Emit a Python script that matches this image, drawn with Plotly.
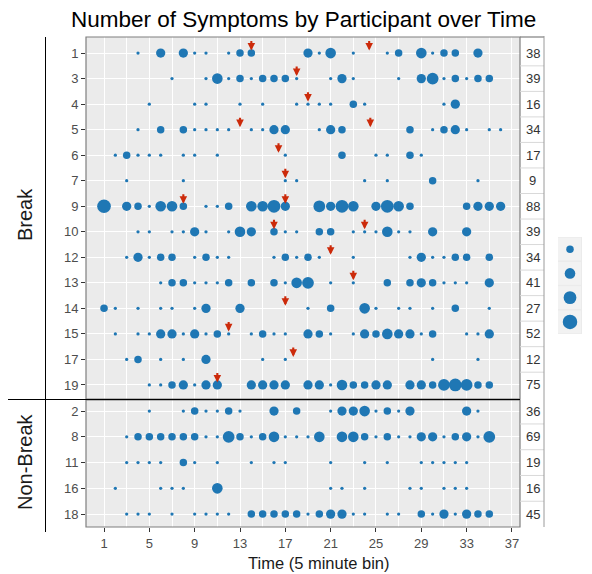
import math
import plotly.graph_objects as go

# the page shows the figure with an 8px body margin, so the figure is 584x566
OFF = 8
W, H = 584, 566

# ---------------- data ----------------
break_ids = ["1", "3", "4", "5", "6", "7", "9", "10", "12", "13", "14", "15", "17", "19"]
nonbreak_ids = ["2", "8", "11", "16", "18"]

break_totals = [38, 39, 16, 34, 17, 9, 88, 39, 34, 41, 27, 52, 12, 75]
nonbreak_totals = [36, 69, 19, 16, 45]

# time bin -> number of symptoms, per participant
p1 = {4: 1, 6: 3, 8: 3, 9: 1, 10: 1, 12: 1, 13: 2, 14: 2, 19: 3, 20: 1, 21: 4, 23: 1, 26: 1, 27: 2, 29: 4, 30: 1, 31: 2, 32: 2, 34: 3}
p3 = {7: 1, 10: 1, 11: 4, 12: 1, 13: 2, 14: 1, 15: 2, 16: 2, 17: 2, 18: 1, 21: 1, 22: 3, 23: 1, 27: 1, 29: 3, 30: 5, 31: 1, 32: 2, 33: 1, 34: 2, 35: 2}
p4 = {5: 1, 9: 1, 10: 1, 13: 1, 15: 1, 18: 1, 19: 1, 20: 1, 21: 1, 23: 2, 24: 1, 31: 1, 32: 3}
p5 = {4: 1, 6: 2, 8: 2, 9: 1, 10: 1, 11: 1, 12: 1, 14: 1, 15: 1, 16: 3, 17: 3, 20: 1, 21: 3, 22: 2, 28: 2, 30: 1, 31: 2, 32: 3, 33: 1, 35: 1, 36: 1}
p6 = {2: 1, 3: 2, 4: 1, 5: 1, 6: 1, 8: 1, 9: 1, 11: 1, 17: 1, 22: 2, 25: 1, 26: 1, 28: 2, 29: 1}
p7 = {3: 1, 8: 1, 17: 1, 18: 1, 24: 1, 26: 1, 30: 2, 34: 1}
p9 = {1: 7, 3: 3, 4: 2, 5: 1, 6: 4, 7: 4, 8: 2, 10: 1, 11: 1, 12: 2, 14: 4, 15: 4, 16: 6, 17: 3, 20: 5, 21: 3, 22: 6, 23: 4, 25: 3, 26: 6, 27: 4, 28: 2, 33: 2, 34: 3, 35: 3, 36: 3}
p10 = {4: 1, 5: 1, 7: 1, 8: 1, 9: 3, 10: 1, 12: 1, 13: 4, 14: 3, 16: 2, 17: 1, 18: 1, 20: 2, 21: 2, 23: 1, 24: 1, 25: 1, 26: 4, 27: 1, 28: 1, 30: 3, 33: 3}
p12 = {3: 1, 4: 3, 5: 1, 6: 2, 7: 2, 9: 1, 10: 2, 11: 1, 12: 1, 16: 1, 17: 2, 18: 1, 19: 2, 20: 1, 23: 1, 28: 1, 29: 3, 30: 1, 31: 1, 32: 2, 33: 2, 35: 2}
p13 = {6: 1, 7: 2, 8: 2, 9: 1, 10: 1, 11: 1, 12: 2, 14: 2, 16: 2, 17: 1, 18: 4, 19: 5, 21: 1, 23: 1, 26: 2, 28: 2, 29: 3, 30: 2, 31: 1, 32: 1, 33: 1, 35: 3}
p14 = {1: 2, 2: 1, 4: 1, 6: 1, 7: 1, 9: 1, 10: 3, 13: 3, 19: 1, 21: 2, 24: 4, 25: 1, 27: 1, 28: 1, 30: 1, 32: 2, 35: 1}
p15 = {2: 1, 4: 1, 5: 1, 6: 3, 7: 3, 8: 1, 9: 3, 10: 1, 11: 2, 12: 1, 14: 1, 15: 2, 16: 1, 17: 1, 19: 3, 20: 2, 21: 1, 23: 1, 24: 3, 25: 2, 26: 4, 27: 3, 28: 3, 29: 1, 30: 2, 33: 1, 34: 1, 35: 3}
p17 = {3: 1, 4: 2, 6: 1, 8: 1, 10: 3, 15: 1, 17: 1, 30: 1, 34: 1}
p19 = {5: 1, 6: 1, 7: 2, 8: 3, 9: 1, 10: 3, 11: 3, 14: 3, 15: 3, 16: 3, 17: 3, 19: 3, 20: 3, 21: 1, 22: 4, 23: 2, 24: 2, 25: 3, 26: 3, 28: 3, 29: 3, 30: 2, 31: 5, 32: 6, 33: 5, 34: 2, 35: 2}

p2 = {5: 1, 8: 1, 9: 2, 10: 1, 11: 1, 12: 2, 13: 1, 16: 3, 18: 2, 21: 1, 22: 3, 23: 3, 24: 4, 25: 1, 26: 2, 27: 1, 28: 3, 33: 3, 34: 1}
p8 = {3: 1, 4: 2, 5: 2, 6: 2, 7: 2, 8: 2, 9: 2, 10: 1, 11: 1, 12: 5, 13: 2, 14: 1, 15: 2, 16: 4, 17: 1, 18: 1, 19: 1, 20: 4, 22: 4, 23: 4, 24: 2, 25: 1, 26: 2, 27: 1, 28: 1, 29: 3, 30: 3, 31: 1, 32: 2, 33: 3, 34: 1, 35: 5}
p11 = {3: 1, 4: 1, 5: 1, 6: 1, 8: 2, 9: 1, 11: 1, 14: 1, 16: 1, 17: 1, 21: 1, 24: 1, 26: 1, 29: 1, 30: 1, 31: 1, 32: 1, 33: 1}
p16 = {2: 1, 6: 1, 7: 1, 8: 1, 11: 4, 21: 1, 22: 1, 24: 1, 28: 1, 29: 1, 31: 1, 32: 1, 33: 1}
p18 = {3: 1, 4: 1, 5: 1, 7: 1, 9: 1, 10: 1, 11: 1, 12: 1, 14: 2, 15: 2, 16: 2, 17: 2, 18: 2, 19: 1, 20: 2, 21: 3, 22: 3, 23: 1, 24: 1, 26: 1, 27: 1, 29: 2, 30: 1, 31: 3, 32: 1, 33: 3, 34: 2, 35: 2}

break_data = [p1, p3, p4, p5, p6, p7, p9, p10, p12, p13, p14, p15, p17, p19]
nonbreak_data = [p2, p8, p11, p16, p18]

# break markers (participant, time bin)
arrow_pid = ["1", "1", "3", "4", "5", "5", "6", "7", "9", "9", "10", "10", "12", "13", "14", "15", "17", "19"]
arrow_time = [14, 24.4, 18, 19, 13, 24.5, 16.4, 17, 8, 17, 16, 24, 21, 23, 17, 12, 17.7, 11]

x_ticks = [1, 5, 9, 13, 17, 21, 25, 29, 33, 37]
x_minor = [3, 7, 11, 15, 19, 23, 27, 31, 35]
legend_vals = [2, 4, 6, 8]

# ---------------- styling ----------------
DOT = "#1F77B4"
ARROW = "#CC2A0A"
FONT = "Liberation Sans"
GRID_BG = "#EBEBEB"
TICK_COL = "#4D4D4D"
BORDER = "#7F7F7F"


def dsize(v):
    return 1 + 2.25 * (1 + 5 * math.sqrt((v - 1) / 7.0))


def long_form(ids, data):
    xs, ys, ss = [], [], []
    for pid, d in zip(ids, data):
        for t, n in d.items():
            xs.append(t)
            ys.append(pid)
            ss.append(dsize(n))
    return xs, ys, ss


def fx(p):
    return (p - OFF) / W


def fy(p):
    return 1 - (p - OFF) / H


fig = go.Figure()

bx, by, bs = long_form(break_ids, break_data)
nx, ny, ns = long_form(nonbreak_ids, nonbreak_data)

fig.add_trace(go.Scatter(x=bx, y=by, mode="markers", xaxis="x", yaxis="y",
                         marker=dict(size=bs, color=DOT, opacity=1, line=dict(width=0)),
                         showlegend=False))
fig.add_trace(go.Scatter(x=nx, y=ny, mode="markers", xaxis="x2", yaxis="y2",
                         marker=dict(size=ns, color=DOT, opacity=1, line=dict(width=0)),
                         showlegend=False))

# legend keys (manual legend)
fig.add_trace(go.Scatter(x=[0] * len(legend_vals), y=[str(v) for v in legend_vals],
                         mode="markers", xaxis="x3", yaxis="y3",
                         marker=dict(size=[dsize(v) for v in legend_vals], color=DOT,
                                     opacity=1, line=dict(width=0)),
                         showlegend=False))

x_dom = [fx(86), fx(520)]
break_dom = [fy(399), fy(37)]
nb_dom = [fy(527), fy(400)]

TICKFONT = dict(size=13, color=TICK_COL, family=FONT)

xcommon = dict(range=[-0.59, 37.71], tickmode="array", tickvals=x_ticks,
               showgrid=True, gridcolor="white", gridwidth=1.2, zeroline=False,
               showline=False,
               minor=dict(tickmode="array", tickvals=x_minor, showgrid=True,
                          gridcolor="white", gridwidth=0.6, ticks=""))

fig.update_layout(
    width=W, height=H,
    margin=dict(l=0, r=0, t=0, b=0, pad=0),
    paper_bgcolor="white", plot_bgcolor=GRID_BG,
    font=dict(family=FONT, color=TICK_COL),
    showlegend=False,
    xaxis=dict(domain=x_dom, anchor="y", showticklabels=False, ticks="", **xcommon),
    xaxis2=dict(domain=x_dom, anchor="y2", matches="x", showticklabels=True,
                ticks="outside", ticklen=4, tickcolor="#333333", tickwidth=1,
                tickfont=TICKFONT, **xcommon),
    yaxis=dict(domain=break_dom, anchor="x", type="category", categoryorder="array",
               categoryarray=break_ids, range=[13.55, -0.63], autorange=False,
               showgrid=True, gridcolor="white", gridwidth=1.2, zeroline=False,
               ticks="outside", ticklen=4, tickcolor="#333333", tickwidth=1,
               tickfont=TICKFONT, showline=False),
    yaxis2=dict(domain=nb_dom, anchor="x2", type="category", categoryorder="array",
                categoryarray=nonbreak_ids, range=[4.5, -0.43], autorange=False,
                showgrid=True, gridcolor="white", gridwidth=1.2, zeroline=False,
                ticks="outside", ticklen=4, tickcolor="#333333", tickwidth=1,
                tickfont=TICKFONT, showline=False),
    xaxis3=dict(domain=[fx(558), fx(582)], anchor="y3", range=[-1, 1], visible=False),
    yaxis3=dict(domain=[fy(334), fy(237)], anchor="x3", type="category",
                categoryorder="array", categoryarray=[str(v) for v in legend_vals],
                range=[3.5, -0.5], autorange=False, visible=False),
)

shapes = []
annotations = []

# legend key backgrounds + labels (category positions given as indices)
for i, v in enumerate(legend_vals):
    shapes.append(dict(type="rect", xref="paper", yref="y3", x0=fx(558), x1=fx(581),
                       y0=i - 0.47, y1=i + 0.47, fillcolor="#F2F2F2", line=dict(width=0),
                       layer="below"))
    annotations.append(dict(text=str(v), xref="paper", yref="y3", x=fx(583), y=i,
                            xanchor="left", yanchor="middle", showarrow=False,
                            font=dict(size=14, color="#1A1A1A", family=FONT)))

# panel borders
for dom in (break_dom, nb_dom):
    shapes.append(dict(type="rect", xref="paper", yref="paper", x0=x_dom[0], x1=x_dom[1],
                       y0=dom[0], y1=dom[1], line=dict(color=BORDER, width=1.2),
                       fillcolor="rgba(0,0,0,0)", layer="above"))

# totals column
for ids, totals, yr in ((break_ids, break_totals, "y"), (nonbreak_ids, nonbreak_totals, "y2")):
    for i, tot in enumerate(totals):
        annotations.append(dict(text=str(tot), xref="paper", yref=yr, x=fx(532.5), y=i,
                                xanchor="center", yanchor="middle", showarrow=False,
                                font=dict(size=13, color="#333333", family=FONT)))
        if i < len(totals) - 1:
            shapes.append(dict(type="line", xref="paper", yref=yr, x0=fx(520), x1=fx(544),
                               y0=i + 0.5, y1=i + 0.5, line=dict(color="#D9D9D9", width=1)))
shapes.append(dict(type="line", xref="paper", yref="paper", x0=fx(520), x1=fx(544),
                   y0=fy(37), y1=fy(37), line=dict(color=BORDER, width=1.2)))
shapes.append(dict(type="line", xref="paper", yref="paper", x0=fx(544), x1=fx(544),
                   y0=fy(527), y1=fy(36), line=dict(color="#9A9A9A", width=1)))

# strip lines and labels
shapes.append(dict(type="line", xref="paper", yref="paper", x0=fx(45.5), x1=fx(45.5),
                   y0=fy(532), y1=fy(37), line=dict(color="black", width=1)))
shapes.append(dict(type="line", xref="paper", yref="paper", x0=fx(8), x1=fx(520),
                   y0=fy(399.5), y1=fy(399.5), line=dict(color="black", width=1.2)))
annotations.append(dict(text="Break", xref="paper", yref="paper", x=fx(25), y=fy(215),
                        textangle=-90, showarrow=False, xanchor="center", yanchor="middle",
                        font=dict(size=20, color="#1A1A1A", family=FONT)))
annotations.append(dict(text="Non-Break", xref="paper", yref="paper", x=fx(25), y=fy(462),
                        textangle=-90, showarrow=False, xanchor="center", yanchor="middle",
                        font=dict(size=20, color="#1A1A1A", family=FONT)))

# break arrows
for pid, t in zip(arrow_pid, arrow_time):
    annotations.append(dict(text="", x=t, y=break_ids.index(pid), xref="x", yref="y",
                            showarrow=True, ax=0, ay=-11, yshift=2.5, arrowhead=2,
                            arrowsize=0.72, arrowwidth=2.1, arrowcolor=ARROW))

# titles
annotations.append(dict(text="Number of Symptoms by Participant over Time", xref="paper",
                        yref="paper", x=fx(303), y=fy(19), showarrow=False,
                        xanchor="center", yanchor="middle",
                        font=dict(size=22.5, color="black", family=FONT)))
annotations.append(dict(text="Time (5 minute bin)", xref="paper", yref="paper",
                        x=fx(319), y=fy(563), showarrow=False, xanchor="center",
                        yanchor="middle", font=dict(size=16.5, color="#1A1A1A", family=FONT)))

fig.update_layout(shapes=shapes, annotations=annotations)

fig.write_html("out.html")
